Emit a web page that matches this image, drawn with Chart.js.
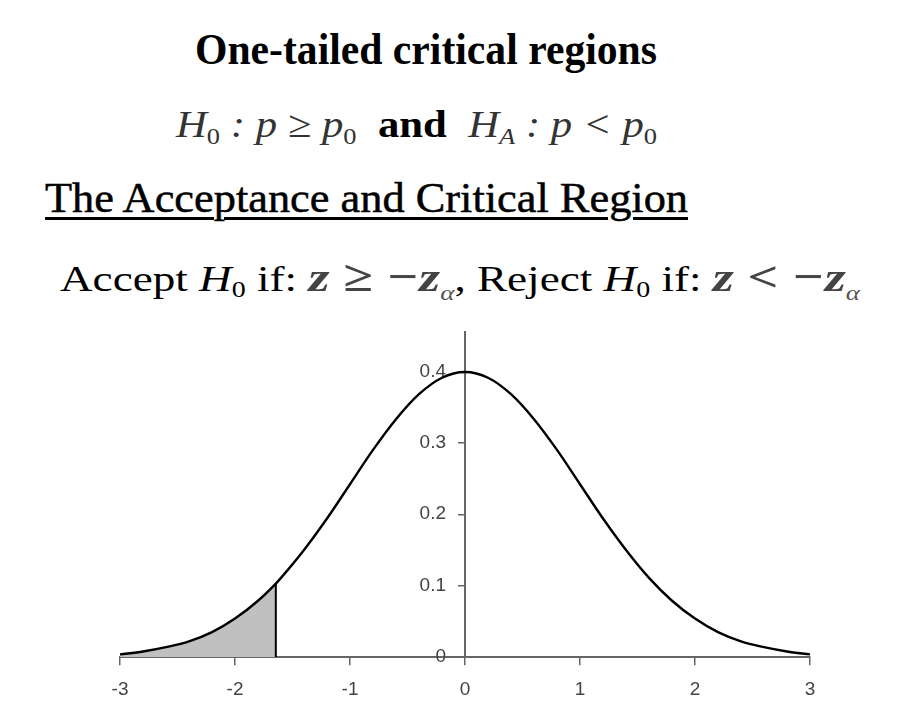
<!DOCTYPE html>
<html>
<head>
<meta charset="utf-8">
<script src="https://cdn.jsdelivr.net/npm/chart.js@4"></script>
<style>
  body { margin: 0; background: #fff; width: 901px; height: 725px; overflow: hidden; position: relative; }
  #normalChart { position: absolute; left: 0; top: 0; }
  .line { position: absolute; white-space: nowrap; line-height: 1; font-family: 'Liberation Serif', 'Times New Roman', serif; color: #000; transform-origin: 0 0; display: inline-block; }
  .line sub { font-size: 0.62em; vertical-align: -0.28em; line-height: 0; font-style: normal; }
  .line sub.it { font-style: italic; }
  .math { color: #333; font-style: italic; }
  .zz { font-weight: bold; font-style: italic; color: #444; font-size: 1.2em; }
  .alpha { font-style: italic; color: #555; font-size: 0.6em; vertical-align: -0.4em; line-height: 0; }
</style>
</head>
<body>
<div class="line" id="l1" data-x="195" data-w="462" style="top:27px; font-size:45px; font-weight:bold;">One-tailed critical regions</div>
<div class="line" id="l2" data-x="176" data-w="481" style="top:105px; font-size:38px;"><span class="math">H<sub>0</sub> : p ≥ p<sub>0</sub></span>&nbsp; <b>and</b>&nbsp; <span class="math">H<sub class="it">A</sub> : p &lt; p<sub>0</sub></span></div>
<div class="line" id="l3" data-x="45" data-w="643" style="top:176px; font-size:43px; -webkit-text-stroke: 0.5px #000; text-decoration: underline; text-decoration-thickness: 3px; text-underline-offset: 5px;">The Acceptance and Critical Region</div>
<div class="line" id="l4" data-x="60" data-w="800" style="top:255px; font-size:36px;">Accept <i>H</i><sub>0</sub> if: <span class="zz">z ≥ −z</span><span class="alpha">α</span>, Reject <i>H</i><sub>0</sub> if: <span class="zz">z &lt; −z</span><span class="alpha">α</span></div>
<canvas id="normalChart" width="901" height="725"></canvas>
<script>
// standard normal curve
const zValues = [-3, -2.8, -2.6, -2.4, -2.2, -2, -1.8, -1.645, -1.6, -1.4, -1.2, -1, -0.8, -0.6, -0.4, -0.2, 0,
  0.2, 0.4, 0.6, 0.8, 1, 1.2, 1.4, 1.6, 1.8, 2, 2.2, 2.4, 2.6, 2.8, 3];
const density = [0.004, 0.008, 0.014, 0.022, 0.035, 0.054, 0.079, 0.103, 0.111, 0.150, 0.194, 0.242, 0.290, 0.333, 0.368, 0.391, 0.399,
  0.391, 0.368, 0.333, 0.290, 0.242, 0.194, 0.150, 0.111, 0.079, 0.054, 0.035, 0.022, 0.014, 0.008, 0.004];
const criticalZ = -1.645;
const criticalDensity = 0.103;
const xTicks = [-3, -2, -1, 0, 1, 2, 3];
const yTicks = [0, 0.1, 0.2, 0.3, 0.4];

let curvePoints = zValues.map((z, i) => ({ x: z, y: density[i] }));
let shadePoints = curvePoints.filter(p => p.x <= criticalZ);

let ctx = document.getElementById('normalChart').getContext('2d');
let normalChart = new Chart(ctx, {
  type: 'line',
  data: {
    datasets: [{
      data: curvePoints,
      borderColor: '#000',
      borderWidth: 2.4,
      pointRadius: 0,
      cubicInterpolationMode: 'monotone',
      fill: false,
      order: 0
    }, {
      data: [{ x: criticalZ, y: 0 }, { x: criticalZ, y: criticalDensity }],
      borderColor: '#000',
      borderWidth: 2,
      pointRadius: 0,
      fill: false,
      order: 1
    }, {
      data: shadePoints,
      borderWidth: 0,
      borderColor: 'rgba(0,0,0,0)',
      backgroundColor: '#c0c0c0',
      pointRadius: 0,
      cubicInterpolationMode: 'monotone',
      fill: 'origin',
      order: 2
    }]
  },
  options: {
    responsive: false,
    animation: false,
    layout: { padding: { left: 120, right: 91, top: 332, bottom: 11 } },
    plugins: { legend: { display: false }, tooltip: { enabled: false } },
    scales: {
      x: {
        type: 'linear',
        min: -3,
        max: 3,
        afterBuildTicks: axis => { axis.ticks = xTicks.map(v => ({ value: v })); },
        border: { color: '#666', width: 2 },
        grid: { drawOnChartArea: false, tickLength: 8, color: '#666', lineWidth: 1.5 },
        ticks: { padding: 13, color: '#444', maxRotation: 0, font: { family: 'Liberation Sans', size: 19 } }
      },
      y: {
        type: 'linear',
        min: 0,
        max: 0.455,
        position: { x: 0 },
        afterBuildTicks: axis => { axis.ticks = yTicks.map(v => ({ value: v })); },
        border: { color: '#666', width: 2 },
        grid: { drawOnChartArea: false, tickLength: 6, color: '#666', lineWidth: 1.5 },
        ticks: {
          color: '#444',
          font: { family: 'Liberation Sans', size: 19 },
          // the axis sits inside the plot, so push labels left of the tick marks
          callback: v => v + '\u2002\u2002'
        }
      }
    }
  }
});

// squeeze the slide text to the widths in the picture
document.fonts.ready.then(() => {
  document.querySelectorAll('.line').forEach(el => {
    let w = el.getBoundingClientRect().width;
    el.style.left = el.dataset.x + 'px';
    el.style.transform = 'scaleX(' + (el.dataset.w / w) + ')';
  });
});
</script>
</body>
</html>
